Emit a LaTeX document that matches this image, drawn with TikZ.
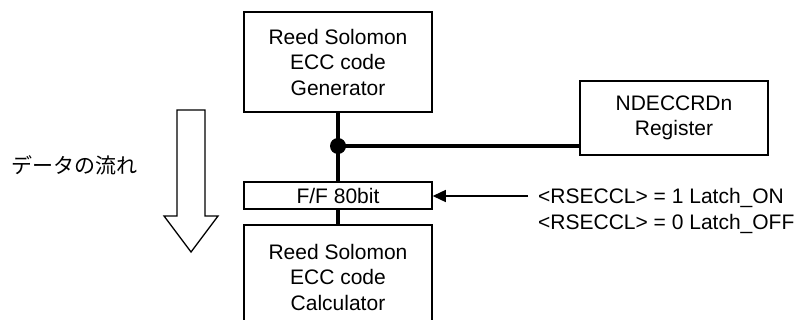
\documentclass[tikz,border=0pt]{standalone}
\usepackage{fontspec}
\setmainfont{Liberation Sans}
\newfontfamily\jpfont{Noto Sans CJK JP}
\usetikzlibrary{arrows.meta}

\begin{document}
\begin{tikzpicture}[
  x=1pt, y=-1pt,
  box/.style = {draw, line width=1.5pt, align=center, inner sep=0pt,
                font=\fontsize{21}{25.5}\selectfont},
  wbox/.style = {box, minimum width=188pt},
  bus/.style = {line width=4pt},
  arrow/.style = {line width=1.3pt, -{Triangle[length=13pt,width=12pt]}}
]

\useasboundingbox (0,0) rectangle (797,320);

% Centre column x=338
\node [wbox, minimum height=100pt] (gen) at (338,62)
  {Reed Solomon\\ECC code\\Generator};

\node [wbox, minimum height=27pt] (ff) at (338,195.5)
  {F/F 80bit};

% bottom box runs past the lower edge
\node [wbox, minimum height=104pt] (calc) at (338,277)
  {Reed Solomon\\ECC code\\Calculator};

% Register on the right
\node [wbox, minimum height=74pt] (ndec) at (674,118)
  {NDECCRDn\\Register};

% Junction
\node [circle, fill, inner sep=0pt, minimum size=16pt] (dot) at (338,146) {};

% Latch control text
\node [anchor=west, align=left, inner sep=0pt,
       font=\fontsize{21}{25.5}\selectfont] (latch) at (538,211)
  {<RSECCL> = 1 Latch\_ON\\<RSECCL> = 0 Latch\_OFF};
\coordinate (latchin) at (528,196);

% Data flow label and hollow arrow
\node [font=\jpfont\fontsize{21}{25}\selectfont] (flow) at (74,165) {データの流れ};
\draw [line width=1.3pt, line join=miter]
  (177,110) -- (205,110) -- (205,216) -- (218,216) -- (191,252)
  -- (164,216) -- (177,216) -- cycle;

% Bus lines
\draw [bus] (gen.south) -- (dot.center) -- (ff.north);
\draw [bus] (ff.south) -- (calc.north);
\draw [bus] (dot.center) -- (ndec.west |- dot.center);

% Latch arrow
\draw [arrow] (latchin) -- (ff.east |- latchin);

\end{tikzpicture}
\end{document}
